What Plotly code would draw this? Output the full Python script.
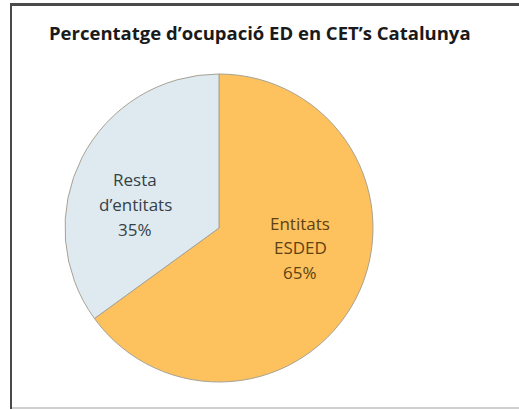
import plotly.graph_objects as go

title = "Percentatge d\u2019ocupació ED en CET\u2019s Catalunya"
labels = ["Entitats ESDED", "Resta d\u2019entitats"]
label_lines = [["Entitats", "ESDED"], ["Resta", "d\u2019entitats"]]
values = [65, 35]
colors = ["#FDC15D", "#DEEAF0"]
text_colors = ["#5E4214", "#353F47"]

W, H = 519, 410
fig = go.Figure()
fig.add_trace(go.Pie(
    labels=labels, values=values, sort=False, direction="clockwise", rotation=0,
    marker=dict(colors=colors, line=dict(color="#A8A294", width=1)),
    textinfo="none", hoverinfo="label+percent", showlegend=False,
    domain=dict(x=[65 / W, 373 / W], y=[1 - 383 / H, 1 - 73 / H]),
))

centers = [(300, 223), (135, 180)]
spacing = 24.5
total = sum(values)
for i, (cx, cy) in enumerate(centers):
    lines = label_lines[i] + [f"{round(values[i] / total * 100)}%"]
    for j, ln in enumerate(lines):
        fig.add_annotation(
            x=cx / W, y=1 - (cy + j * spacing) / H, xref="paper", yref="paper",
            text=ln, showarrow=False, xanchor="center", yanchor="middle",
            font=dict(family="Open Sans", size=17, color=text_colors[i]),
        )

fig.add_annotation(
    x=260 / W, y=1 - 33 / H, xref="paper", yref="paper", text=f"<b>{title}</b>",
    showarrow=False, xanchor="center", yanchor="middle",
    font=dict(family="Open Sans", size=18.5, color="#1A1A1A"),
)

# frame (filled thin rectangles)
fig.add_shape(type="rect", xref="paper", yref="paper", x0=10 / W, x1=12 / W,
              y0=1 - 409 / H, y1=1 - 3 / H, fillcolor="#4A4A4A",
              line=dict(width=0), layer="above")
fig.add_shape(type="rect", xref="paper", yref="paper", x0=10 / W, x1=1,
              y0=1 - 6 / H, y1=1 - 3 / H, fillcolor="#4A4A4A",
              line=dict(width=0), layer="above")
fig.add_shape(type="rect", xref="paper", yref="paper", x0=12 / W, x1=1,
              y0=1 - 409 / H, y1=1 - 407 / H, fillcolor="#D0D0D0",
              line=dict(width=0), layer="above")

fig.update_layout(
    width=W, height=H, margin=dict(l=0, r=0, t=0, b=0, pad=0),
    paper_bgcolor="white", plot_bgcolor="white",
)
fig.write_html("out.html", config={"displayModeBar": False},
               post_script="document.body.style.margin='0';document.body.style.overflow='hidden';")
